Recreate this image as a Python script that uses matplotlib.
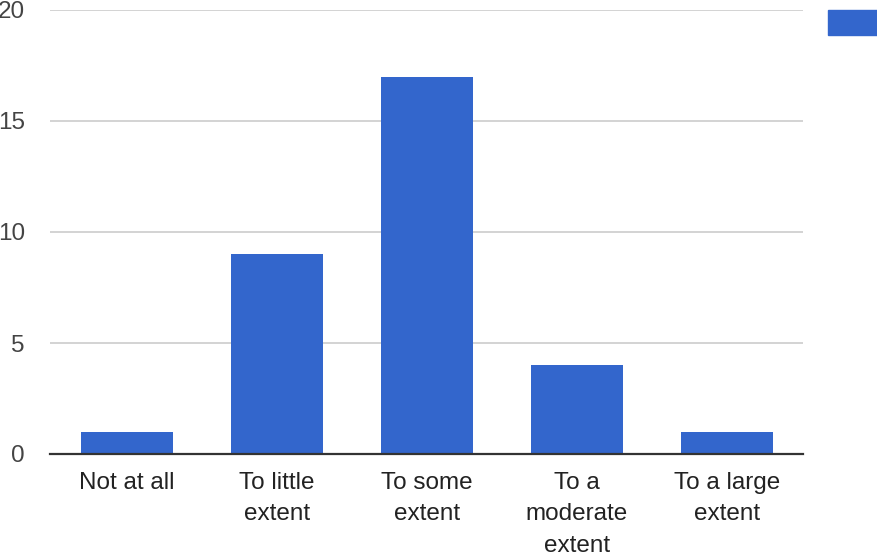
import matplotlib.pyplot as plt
from matplotlib.patches import Rectangle

categories = ["Not at all", "To little\nextent", "To some\nextent", "To a\nmoderate\nextent", "To a large\nextent"]
counts = [1, 9, 17, 4, 1]
y_ticks = [0, 5, 10, 15, 20]

bar_color = "#3366cc"

fig = plt.figure(figsize=(8.78, 5.58), dpi=100)
ax = fig.add_axes([50 / 878, 104 / 558, 753 / 878, 444 / 558])

x = list(range(len(categories)))
ax.bar(x, counts, width=0.613, color=bar_color, zorder=2)

ax.set_xlim(-0.513, 4.507)
ax.set_ylim(0, 20)
ax.set_yticks(y_ticks)
ax.set_xticks(x)
ax.set_xticklabels(categories, fontfamily="Liberation Sans", fontsize=17.5,
                   color="#222222", linespacing=1.55, va="top")
ax.set_yticklabels([str(v) for v in y_ticks], fontfamily="Liberation Sans",
                   fontsize=17.5, color="#444444")
ax.tick_params(axis="both", length=0)
ax.tick_params(axis="y", pad=18)
ax.tick_params(axis="x", pad=13)

ax.grid(axis="y", color="#cccccc", linewidth=1.2, zorder=0)
for side in ["top", "right", "left"]:
    ax.spines[side].set_visible(False)
ax.spines["bottom"].set_color("#333333")
ax.spines["bottom"].set_linewidth(1.6)
ax.spines["bottom"].set_zorder(3)

# legend swatch (label is cut off in the original)
fig.patches.append(Rectangle((828 / 878, 1 - 35 / 558), 50 / 878, 25 / 558,
                             transform=fig.transFigure, color=bar_color))

fig.savefig("out.png", dpi=100)
